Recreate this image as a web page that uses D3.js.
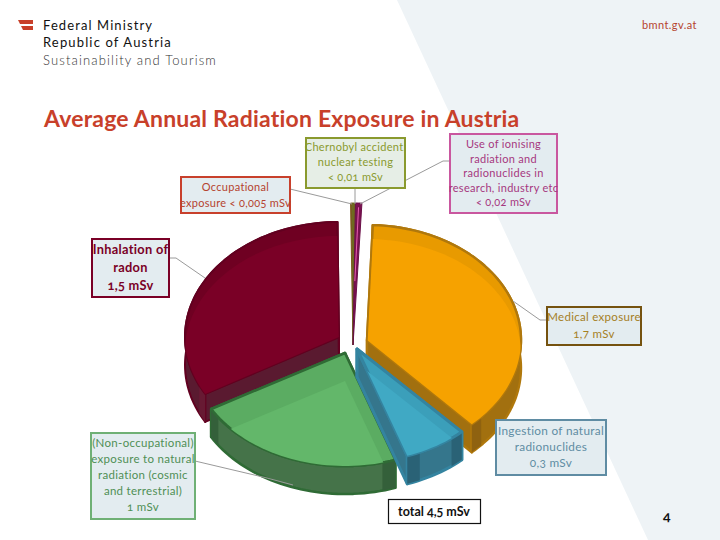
<!DOCTYPE html>
<html><head><meta charset="utf-8">
<script src="https://cdnjs.cloudflare.com/ajax/libs/d3/7.8.5/d3.min.js"></script>
<style>
html,body{margin:0;padding:0;background:#fff}
svg{display:block}
text{font-family:Lato,"Open Sans",sans-serif;font-feature-settings:"onum" 1,"lnum" 0;font-variant-numeric:oldstyle-nums}
</style></head><body><svg id="c" width="720" height="540"></svg>
<script>
// Data
const categories=["Occupational exposure","Chernobyl accident, nuclear testing","Use of ionising radiation","Medical exposure","Ingestion of natural radionuclides","Non-occupational natural exposure","Inhalation of radon"];
const doses=[0.005,0.01,0.02,1.7,0.3,1,1.5];
const labelLines=[
 ["Occupational","exposure < 0,005 mSv"],
 ["Chernobyl accident,","nuclear testing","< 0,01 mSv"],
 ["Use of ionising","radiation and","radionuclides in","research, industry etc","< 0,02 mSv"],
 ["Medical exposure","1,7 mSv"],
 ["Ingestion of natural","radionuclides","0,3 mSv"],
 ["(Non-occupational)","exposure to natural","radiation (cosmic","and terrestrial)","1 mSv"],
 ["Inhalation of","radon","1,5 mSv"]];
const titleText="Average Annual Radiation Exposure in Austria";
const logoLines=["Federal Ministry","Republic of Austria","Sustainability and Tourism"];

// Slice geometry (explosion offsets and projected radii)
const apexes=[[353,345],[353,345],[353,345],[367,340],[357,349],[345,353],[339,337]];
const radii=[[235,142],[235,142],[235,142],[154,115],[154,113],[154,113],[154,115]];
const depths=[0,0,0,28,28,28,28];
// Styles
const topFill=["#7d5a1e","#6f6a1c","#7a1150","#e89a00","#3b9fba","#5bac62","#6f0022"];
const innerFill=[null,null,null,"#f6a200","#40a9c4","#63b76a","#7a0026"];
const edge=["#7d5a1e","#6b6a22","#6a0f48","#b0780c","#3484a0","#2f6b35","#620020"];
const edgeWidth=[1,1,1,2.4,3,2.6,2];
const wallFill=[null,null,null,"#a2700f","#35768c","#457349","#5a1a30"];
const wallEnd=[null,null,null,"#8f6210","#2a6276","#34603a","#671a33"];
const boxes=[[181,177,109,36],[306,138,99,50],[450,134,107,79],[547,307,94,38],[496,420,110,55],[91,433,104,86],[92,239,77,58]];
const boxFill=["#e3ecf0","#e6eee6","#e3ecf0","#e3ecf0","#e3ecf0","#e3ecf0","#e3ecf0"];
const boxStroke=["#c8402c","#8a9a2e","#c9579f","#75520f","#5f8ca3","#6fb075","#7a0026"];
const textFill=["#b5432f","#8a9a2e","#a6387f","#a5801f","#5f8ca3","#4f8f55","#7a0026"];
const textSize=[11,11,11,11.5,11.8,11.5,12.8];
const firstBase=[191,151,148,321,435,447,254];
const lineStep=[16,15,14.5,17,16,16,18];
const leaders=[[[290,189],[352,204]],[[355,188],[355,204]],[[450,161],[443,161],[360,204]],[[547,320],[540,320],[513,301]],[],[[195,461],[267,478],[293,485]],[[169,258],[176,258],[205,278]]];

const svg=d3.select("#c");
const rad=d=>d*Math.PI/180;
const line=d3.line();
svg.append("path").attr("d",line([[397,0],[720,0],[720,540],[648,540]])+"Z").attr("fill","#eef3f6");

const pie=d3.pie().sort(null).value(d=>d).startAngle(rad(-0.6)).endAngle(rad(359.4));
const arcs=pie(doses);
const defs=svg.append("defs");
const g=svg.append("g");

function proj(i,a,r,dy){
  const sx=d3.scaleLinear([0,1],[apexes[i][0],apexes[i][0]+radii[i][0]]);
  const sy=d3.scaleLinear([0,1],[apexes[i][1]+(dy||0),apexes[i][1]+(dy||0)-radii[i][1]]);
  return [sx(r*Math.sin(a)),sy(r*Math.cos(a))];
}
function rim(i,a0,a1,r,dy){
  const n=Math.max(4,Math.ceil((a1-a0)/rad(2)));
  return d3.range(n+1).map(k=>proj(i,a0+(a1-a0)*k/n,r,dy));
}
const drawOrder=[6,3,5,4,0,1,2];
drawOrder.forEach(i=>{
  const s=arcs[i],dp=depths[i];
  if(dp){
    [s.startAngle,s.endAngle].forEach(a=>{
      const o=proj(i,a,1,0),c=proj(i,0,0,0);
      g.append("path").attr("d",line([c,o,[o[0],o[1]+dp],[c[0],c[1]+dp]])+"Z")
       .attr("fill",wallFill[i]).attr("stroke",edge[i]).attr("stroke-width",edgeWidth[i]).attr("stroke-linejoin","round");
    });
    const top=rim(i,s.startAngle,s.endAngle,1,0),bot=rim(i,s.startAngle,s.endAngle,1,dp).reverse();
    g.append("path").attr("d",line(top.concat(bot))+"Z")
     .attr("fill",wallFill[i]).attr("stroke",edge[i]).attr("stroke-width",edgeWidth[i]).attr("stroke-linejoin","round");
    [[s.endAngle,s.endAngle-rad(5)],[s.startAngle,s.startAngle+rad(5)]].forEach(p=>{
      const e=proj(i,p[0],1,0),w=proj(i,p[1],1,0);
      if(e[1]>apexes[i][1]+40) g.append("path").attr("d",line([e,w,[w[0],w[1]+dp],[e[0],e[1]+dp]])+"Z").attr("fill",wallEnd[i]);
    });
  }
  const face=line([proj(i,0,0,0)].concat(rim(i,s.startAngle,s.endAngle,1,0)))+"Z";
  g.append("path").attr("d",face).attr("fill",topFill[i])
   .attr("stroke",edge[i]).attr("stroke-width",edgeWidth[i]).attr("stroke-linejoin","round");
  if(innerFill[i]){
    defs.append("clipPath").attr("id","face"+i).append("path").attr("d",face);
    const off=i===5?28:14;
    const inner=[proj(i,0,0,off)].concat(rim(i,s.startAngle,s.endAngle,1,off));
    g.append("path").attr("d",line(inner)+"Z").attr("fill",innerFill[i]).attr("clip-path","url(#face"+i+")");
  }
});
const hl=[proj(2,arcs[2].startAngle+rad(.8),.97),proj(2,arcs[2].startAngle+rad(.4),.45)];
g.append("path").attr("d",line(hl)).attr("stroke","#e85fb0").attr("stroke-width",1).attr("fill","none");

svg.append("g").selectAll("path").data(leaders).join("path")
  .attr("d",d=>d.length?line(d):null).attr("fill","none").attr("stroke","#9a9a9a").attr("stroke-width",1);

categories.forEach((c,i)=>{
  const b=boxes[i];
  svg.append("rect").attr("x",b[0]).attr("y",b[1]).attr("width",b[2]).attr("height",b[3])
    .attr("fill",boxFill[i]).attr("stroke",boxStroke[i]).attr("stroke-width",2);
  const t=svg.append("text").attr("text-anchor","middle").attr("fill",textFill[i])
    .attr("font-size",textSize[i]).attr("font-weight",i===6?700:400).attr("letter-spacing",.3);
  labelLines[i].forEach((l,k)=>t.append("tspan").attr("x",b[0]+b[2]/2).attr("y",firstBase[i]+k*lineStep[i]).text(l));
});
svg.append("rect").attr("x",388.5).attr("y",499.5).attr("width",92).attr("height",24).attr("fill","#fff").attr("stroke","#111").attr("stroke-width",1.2);
svg.append("text").attr("x",434).attr("y",516).attr("text-anchor","middle").attr("font-size",12.5).attr("font-weight",700).attr("fill","#111").text("total 4,5 mSv");

svg.append("text").attr("x",44).attr("y",127).attr("font-size",23).attr("font-weight",700).attr("letter-spacing",.2).attr("fill","#c8402a").text(titleText);
svg.append("text").attr("x",642).attr("y",29).attr("font-size",11).attr("letter-spacing",.4).attr("fill","#b5432f").text("bmnt.gv.at");
svg.append("text").attr("x",663).attr("y",521).attr("font-size",14).attr("font-weight",700).attr("fill","#111").text("4");
svg.append("path").attr("d",line([[18,20],[33,20],[33,24],[20,24]])+"Z").attr("fill","#c8402a");
svg.append("path").attr("d",line([[21,26],[33,26],[33,30],[23,30]])+"Z").attr("fill","#c8402a");
const logoW=[400,400,300];
const logoSpace=[1.1,1.15,1.15];
logoLines.forEach((l,i)=>svg.append("text").attr("x",43).attr("y",[30,47,65][i]).attr("font-size",13).attr("font-weight",logoW[i]).attr("letter-spacing",logoSpace[i]).attr("fill",i===2?"#333":"#111").text(l));
</script></body></html>
